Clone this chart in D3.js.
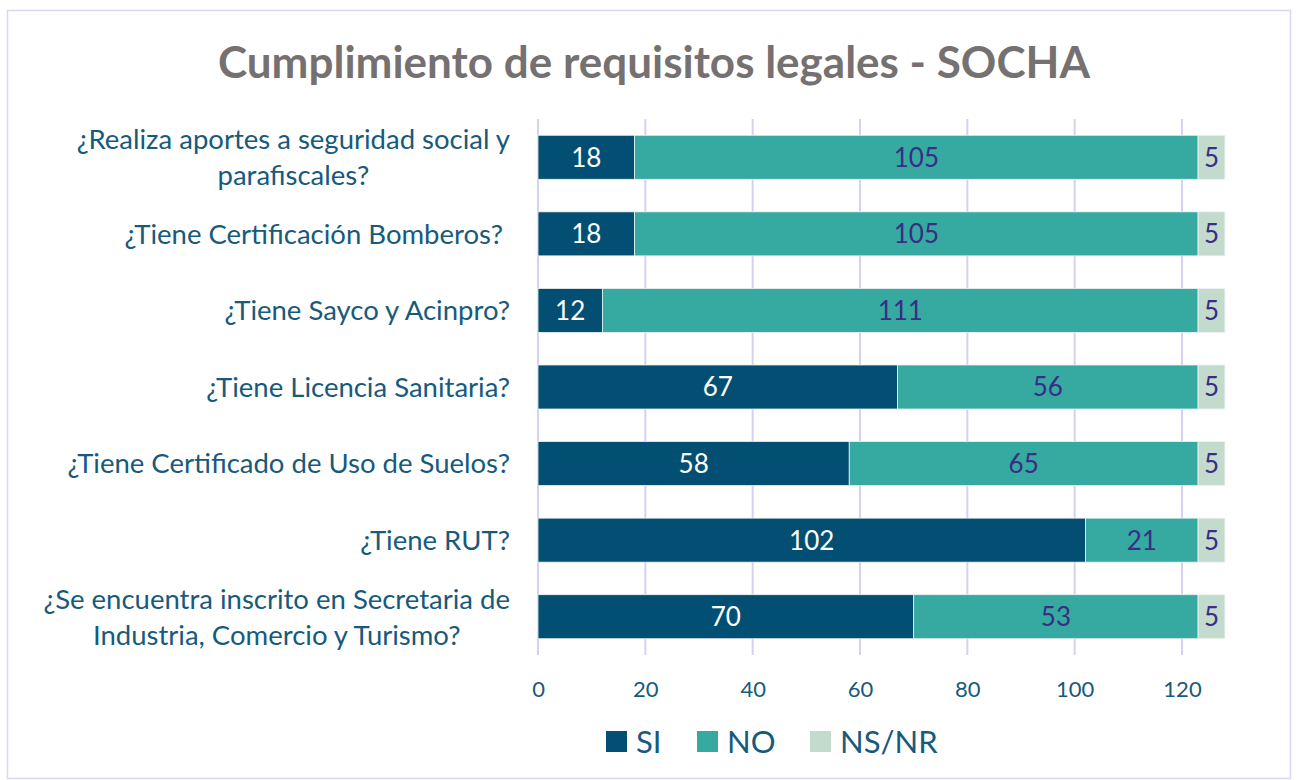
<!DOCTYPE html>
<html>
<head>
<meta charset="utf-8">
<script src="https://cdn.jsdelivr.net/npm/d3@7"></script>
<style>
  body { margin: 0; background: #fff; }
  svg { display: block; }
</style>
</head>
<body>
<div id="chart"></div>
<script>
// chart data, top to bottom
const categories = [
  ["¿Realiza aportes a seguridad social y", "parafiscales?"],
  ["¿Tiene Certificación Bomberos? "],
  ["¿Tiene Sayco y Acinpro?"],
  ["¿Tiene Licencia Sanitaria?"],
  ["¿Tiene Certificado de Uso de Suelos?"],
  ["¿Tiene RUT?"],
  ["¿Se encuentra inscrito en Secretaria de", "Industria, Comercio y Turismo?"]
];
const seriesNames = ["SI", "NO", "NS/NR"];
const siValues = [18, 18, 12, 67, 58, 102, 70];
const noValues = [105, 105, 111, 56, 65, 21, 53];
const nsnrValues = [5, 5, 5, 5, 5, 5, 5];
const xTicks = [0, 20, 40, 60, 80, 100, 120];

const width = 1298, height = 780;
const font = "Lato, 'Open Sans', sans-serif";
const colors = ["#034f74", "#36a9a1", "#c3dbcd"];
const labelColors = ["#ffffff", "#3a2d86", "#3a2d86"];
const textBlue = "#175a7c";
const gridColor = "#d5d1f1";

const svg = d3.select("#chart").append("svg")
  .attr("width", width)
  .attr("height", height);

// outer frame
svg.append("rect")
  .attr("x", 7.5).attr("y", 10.5)
  .attr("width", 1283).attr("height", 768)
  .attr("fill", "#fff")
  .attr("stroke", "#d9d7f0")
  .attr("stroke-width", 1.5);

svg.append("text")
  .text("Cumplimiento de requisitos legales - SOCHA")
  .attr("x", 654).attr("y", 78)
  .attr("text-anchor", "middle")
  .style("font-family", font)
  .style("font-weight", "bold")
  .style("font-size", "44px")
  .style("fill", "#767171");

const keys = categories.map((c, i) => i);
const x = d3.scaleLinear().domain([0, 120]).range([538, 1182]);
const y = d3.scaleBand().domain(keys).range([119, 655])
  .paddingInner(0.425).paddingOuter(0.2125);

// gridlines
svg.append("g")
  .selectAll("line")
  .data(xTicks)
  .enter()
  .append("line")
  .attr("x1", d => x(d)).attr("x2", d => x(d))
  .attr("y1", 119).attr("y2", 655)
  .attr("stroke", gridColor)
  .attr("stroke-width", 2);

// x axis labels
const xAxis = svg.append("g")
  .attr("transform", "translate(0,681)")
  .call(d3.axisBottom(x).tickValues(xTicks).tickSize(0).tickPadding(0));
xAxis.select(".domain").remove();
xAxis.selectAll("text")
  .attr("dy", "0.71em")
  .style("font-family", font)
  .style("font-size", "22px")
  .style("fill", textBlue);

// stack the three series
const rows = keys.map(i => ({ SI: siValues[i], NO: noValues[i], "NS/NR": nsnrValues[i], idx: i }));
const stacked = d3.stack().keys(seriesNames)(rows);

const layers = svg.append("g")
  .selectAll("g")
  .data(stacked)
  .enter()
  .append("g");

layers.selectAll("rect")
  .data((d, si) => d.map(p => ({ p, si })))
  .enter()
  .append("rect")
  .attr("x", d => x(d.p[0]))
  .attr("y", d => y(d.p.data.idx))
  .attr("width", d => x(d.p[1]) - x(d.p[0]))
  .attr("height", y.bandwidth())
  .attr("fill", d => colors[d.si])
  .attr("stroke", "#eef3f3")
  .attr("stroke-width", 0.8);

layers.selectAll("text")
  .data((d, si) => d.map(p => ({ p, si })))
  .enter()
  .append("text")
  .text(d => d.p[1] - d.p[0])
  .attr("x", d => (x(d.p[0]) + x(d.p[1])) / 2)
  .attr("y", d => y(d.p.data.idx) + y.bandwidth() / 2)
  .attr("dy", "0.36em")
  .attr("text-anchor", "middle")
  .style("font-family", font)
  .style("font-size", "26px")
  .style("fill", d => labelColors[d.si]);

// category labels, lines centred within a right-aligned block
const catFont = 27.5, lineH = 36;
categories.forEach((lines, i) => {
  const g = svg.append("g");
  const cy = y(i) + y.bandwidth() / 2;
  const t = g.append("text")
    .style("font-family", font)
    .style("font-size", catFont + "px")
    .style("white-space", "pre")
    .style("fill", textBlue);
  lines.forEach((ln, j) => {
    t.append("tspan")
      .text(ln)
      .attr("x", 0)
      .attr("y", cy + (j - (lines.length - 1) / 2) * lineH)
      .attr("dy", "0.36em")
      .attr("text-anchor", "middle");
  });
  // widest line sets the block width
  let w = 0;
  t.selectAll("tspan").each(function () { w = Math.max(w, this.getComputedTextLength()); });
  t.attr("transform", "translate(" + (510 - w / 2) + ",0)");
});

// legend
const legendX = [606, 697, 810];
const legend = svg.append("g")
  .selectAll("g")
  .data(seriesNames)
  .enter()
  .append("g")
  .attr("transform", (d, i) => "translate(" + legendX[i] + ",731)");
legend.append("rect")
  .attr("width", 21).attr("height", 21)
  .attr("fill", (d, i) => colors[i]);
legend.append("text")
  .text(d => d)
  .attr("x", 30).attr("y", 11)
  .attr("dy", "0.36em")
  .style("font-family", font)
  .style("font-size", "31px")
  .style("fill", textBlue);
</script>
</body>
</html>
